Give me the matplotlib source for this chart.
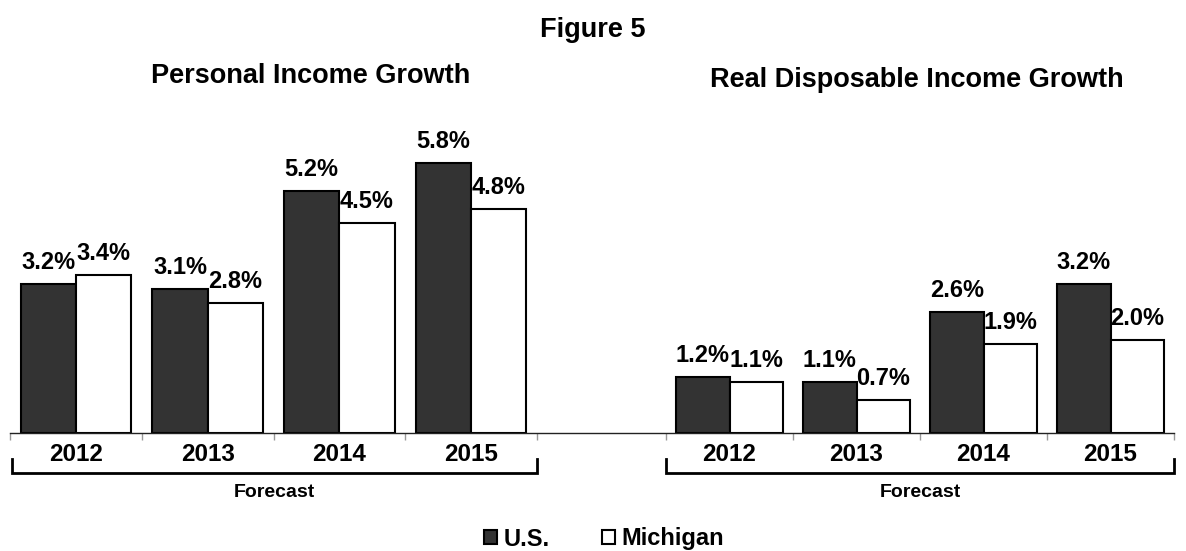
import matplotlib
matplotlib.use("Agg")
import matplotlib.pyplot as plt
from matplotlib.lines import Line2D
import numpy as np

plt.rcParams["font.family"] = ["Liberation Sans", "DejaVu Sans"]
plt.rcParams["font.weight"] = "bold"

# dados
years = ["2012", "2013", "2014", "2015"]
personal_us = [3.2, 3.1, 5.2, 5.8]
personal_mi = [3.4, 2.8, 4.5, 4.8]
real_us = [1.2, 1.1, 2.6, 3.2]
real_mi = [1.1, 0.7, 1.9, 2.0]
series_names = ["U.S.", "Michigan"]

COR_US = "#333333"
COR_MI = "#FFFFFF"

W, H = 1186, 551
fig = plt.figure(figsize=(W / 100, H / 100), dpi=100)

BASE = 433          # linha de base em px (a partir do topo)
YMAX = 6.5
PX_UNIT = 46.6
TOP = BASE - YMAX * PX_UNIT


def box(x0, x1):
    return [x0 / W, 1 - BASE / H, (x1 - x0) / W, (BASE - TOP) / H]


def fy(y):
    return 1 - y / H


def painel(ax, us, mi):
    x = np.arange(len(years))
    b1 = ax.bar(x - 0.21, us, 0.42, color=COR_US, edgecolor="black", linewidth=1.5,
                label=series_names[0])
    b2 = ax.bar(x + 0.21, mi, 0.42, color=COR_MI, edgecolor="black", linewidth=1.5,
                label=series_names[1])
    for bars, vals in ((b1, us), (b2, mi)):
        for r, v in zip(bars, vals):
            ax.annotate(f"{v:.1f}%", (r.get_x() + r.get_width() / 2, v),
                        xytext=(0, 10.8), textcoords="offset points",
                        ha="center", va="baseline", fontsize=17, fontweight="bold")
    ax.set_xlim(-0.5, len(years) - 0.5)
    ax.set_ylim(0, YMAX)
    ax.set_yticks([])
    for s in ax.spines.values():
        s.set_visible(False)
    ax.set_xticks(x)
    ax.set_xticklabels(years, fontsize=17.5, fontweight="bold")
    ax.tick_params(axis="x", which="major", length=0, pad=7)
    ax.set_xticks(np.arange(-0.5, len(years), 1), minor=True)
    ax.tick_params(axis="x", which="minor", length=5, width=1, color="#999999")
    ax.patch.set_alpha(0)
    return b1, b2


ax1 = fig.add_axes(box(10, 537))
ax2 = fig.add_axes(box(666, 1174))
h1, h2 = painel(ax1, personal_us, personal_mi)
painel(ax2, real_us, real_mi)

# linha de base continua entre os dois paineis
fig.add_artist(Line2D([10 / W, 1174 / W], [fy(BASE)] * 2, color="#222222", lw=1))

# colchetes "Forecast"
for x0, x1 in ((12, 537), (666, 1174)):
    fig.add_artist(Line2D([x0 / W, x0 / W, x1 / W, x1 / W],
                          [fy(459), fy(473), fy(473), fy(459)],
                          color="black", lw=2, solid_joinstyle="miter"))
    fig.text((x0 + x1) / 2 / W, fy(497), "Forecast", ha="center", va="baseline",
             fontsize=14, fontweight="bold")

# titulos
fig.text(593 / W, fy(37), "Figure 5", ha="center", va="baseline",
         fontsize=19.5, fontweight="bold")
fig.text(311 / W, fy(83), "Personal Income Growth", ha="center", va="baseline",
         fontsize=19.5, fontweight="bold")
fig.text(917 / W, fy(87), "Real Disposable Income Growth", ha="center", va="baseline",
         fontsize=19.5, fontweight="bold")

# legenda
fig.legend(handles=[h1, h2], labels=series_names, loc="center",
           bbox_to_anchor=(604 / W, fy(539)), ncol=2, frameon=False,
           fontsize=17, handlelength=0.55, handleheight=0.55, handletextpad=0.3,
           columnspacing=2.2, borderaxespad=0, borderpad=0)

fig.savefig("out.png", dpi=100, facecolor="white")
